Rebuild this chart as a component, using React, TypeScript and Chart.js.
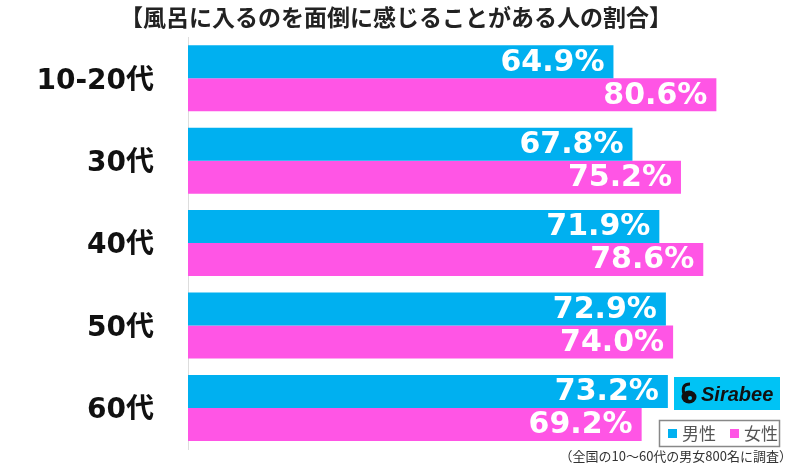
import { useEffect, useRef } from "react";
import { Chart, registerables } from "chart.js";
Chart.register(...registerables);

const categories = ["10-20代", "30代", "40代", "50代", "60代"];
const maleValues = [64.9, 67.8, 71.9, 72.9, 73.2];
const femaleValues = [80.6, 75.2, 78.6, 74.0, 69.2];
const seriesNames = ["男性", "女性"];
const seriesColors = ["#00B0F0", "#FF55E5"];
const titleText = "【風呂に入るのを面倒に感じることがある人の割合】";
const noteText = "（全国の10～60代の男女800名に調査）";
const brandText = "Sirabee";

const LATIN = '"Liberation Sans", Arial';
const WIDE = '"DejaVu Sans"';
const CJK = '"Noto Sans CJK JP"';

const overlayPlugin = {
  id: "overlay",
  afterDatasetsDraw(chart: any) {
    const ctx = chart.ctx;
    ctx.save();
    ctx.fillStyle = "#ffffff";
    ctx.font = `bold 30px ${WIDE}, sans-serif`;
    ctx.textAlign = "right";
    ctx.textBaseline = "middle";
    chart.data.datasets.forEach((ds: any, di: number) => {
      const meta = chart.getDatasetMeta(di);
      meta.data.forEach((el: any, i: number) => {
        const v = ds.data[i];
        ctx.fillText(v.toFixed(1) + "%", el.x - 9, el.y + 1);
      });
    });
    ctx.restore();
  },
  afterDraw(chart: any) {
    const ctx = chart.ctx;
    ctx.save();
    // title
    ctx.fillStyle = "#222222";
    ctx.font = `bold 23px ${CJK}, sans-serif`;
    ctx.textAlign = "center";
    ctx.textBaseline = "middle";
    ctx.fillText(titleText, 396, 17);

    // brand logo
    ctx.fillStyle = "#00C3F5";
    ctx.fillRect(674, 377, 106, 33);
    ctx.fillStyle = "#111111";
    ctx.beginPath();
    ctx.ellipse(689, 397, 7.5, 6.5, 0, 0, Math.PI * 2);
    ctx.fill();
    ctx.lineWidth = 3;
    ctx.strokeStyle = "#111111";
    ctx.beginPath();
    ctx.moveTo(684, 394);
    ctx.quadraticCurveTo(681, 384, 690, 384);
    ctx.stroke();
    ctx.fillStyle = "#00C3F5";
    ctx.beginPath();
    ctx.arc(690, 398, 2, 0, Math.PI * 2);
    ctx.fill();
    ctx.fillStyle = "#111111";
    ctx.font = `italic bold 20px ${LATIN}, sans-serif`;
    ctx.textAlign = "left";
    ctx.textBaseline = "middle";
    ctx.fillText(brandText, 701, 395);

    // legend box
    ctx.fillStyle = "#ffffff";
    ctx.fillRect(659, 420, 121, 27);
    ctx.strokeStyle = "#888888";
    ctx.lineWidth = 1.5;
    ctx.strokeRect(659.5, 420.5, 120, 26);
    ctx.font = `17px ${CJK}, sans-serif`;
    ctx.textBaseline = "middle";
    let x = 668;
    seriesNames.forEach((name, i) => {
      ctx.fillStyle = seriesColors[i];
      ctx.fillRect(x, 429, 9, 9);
      ctx.fillStyle = "#555555";
      ctx.fillText(name, x + 14, 434);
      x += 14 + ctx.measureText(name).width + 14;
    });

    // note
    ctx.fillStyle = "#333333";
    ctx.font = `13px ${CJK}, sans-serif`;
    ctx.textAlign = "right";
    ctx.fillText(noteText, 792, 456);
    ctx.restore();
  },
};

export default function App() {
  const ref = useRef<HTMLCanvasElement | null>(null);
  useEffect(() => {
    if (!ref.current) return;
    const chart = new Chart(ref.current, {
      type: "bar",
      data: {
        labels: categories,
        datasets: [
          {
            label: seriesNames[0],
            data: maleValues,
            backgroundColor: seriesColors[0],
            categoryPercentage: 0.8,
            barPercentage: 1.0,
          },
          {
            label: seriesNames[1],
            data: femaleValues,
            backgroundColor: seriesColors[1],
            categoryPercentage: 0.8,
            barPercentage: 1.0,
          },
        ],
      },
      options: {
        indexAxis: "y",
        responsive: false,
        animation: false,
        layout: { padding: { top: 37, bottom: 9, left: 0, right: 22 } },
        plugins: {
          legend: { display: false },
          title: { display: false },
          tooltip: { enabled: false },
        },
        scales: {
          x: { display: false, min: 0, max: 90 },
          y: {
            afterFit: (s: any) => {
              s.width = 188;
            },
            grid: {
              display: true,
              drawOnChartArea: false,
              drawTicks: true,
              tickLength: 34,
              tickColor: "rgba(0,0,0,0)",
            },
            border: { display: true, color: "#dddddd", width: 1 },
            ticks: {
              padding: 0,
              labelOffset: 3,
              color: "#111111",
              font: { size: 28, weight: "bold", family: `${WIDE}, ${CJK}, sans-serif` },
            },
          },
        },
      },
      plugins: [overlayPlugin],
    } as any);
    return () => chart.destroy();
  }, []);
  return (
    <div style={{ position: "absolute", left: 0, top: 0, width: 800, height: 466, background: "#fff" }}>
      <canvas ref={ref} width={800} height={466} />
    </div>
  );
}
